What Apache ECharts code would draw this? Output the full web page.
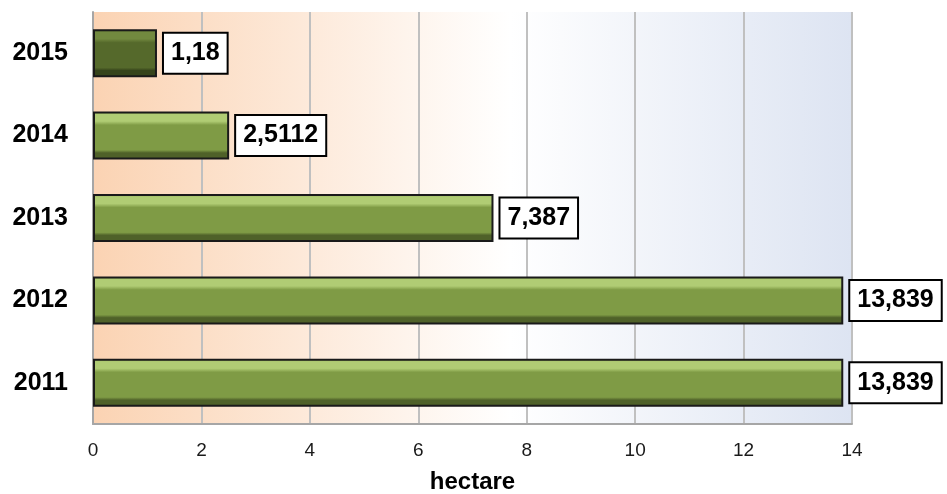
<!DOCTYPE html>
<html>
<head>
<meta charset="utf-8">
<script src="https://cdn.jsdelivr.net/npm/echarts@6/dist/echarts.min.js"></script>
<style>
  html, body { margin: 0; padding: 0; background: #ffffff; }
  #chart { width: 947px; height: 494px; }
</style>
</head>
<body>
<div id="chart"></div>
<script>
// Data
const years = ['2011', '2012', '2013', '2014', '2015'];
const hectares = [13.839, 13.839, 7.387, 2.5112, 1.18];
const valueLabels = ['13,839', '13,839', '7,387', '2,5112', '1,18'];
const xTicks = [0, 2, 4, 6, 8, 10, 12, 14];

// Bevel-like fills
function barFill(light, mid, dark) {
  return new echarts.graphic.LinearGradient(0, 0, 0, 1, [
    {offset: 0, color: mid},
    {offset: 0.06, color: light},
    {offset: 0.2, color: light},
    {offset: 0.28, color: mid},
    {offset: 0.8, color: mid},
    {offset: 0.86, color: dark},
    {offset: 1, color: dark}
  ]);
}
const normalFill = barFill('#b0cc74', '#7f9b45', '#4f6129');
const darkFill = barFill('#72893f', '#55692b', '#36441b');

const chart = echarts.init(document.getElementById('chart'));

const option = {
  animation: false,
  textStyle: {fontFamily: 'Liberation Sans, Arial, sans-serif'},
  grid: {
    left: 93,
    right: 95,
    top: 12,
    bottom: 70,
    containLabel: false,
    outerBoundsMode: 'none',
    show: true,
    borderWidth: 0,
    backgroundColor: new echarts.graphic.LinearGradient(0, 0, 1, 0, [
      {offset: 0, color: '#fbd3b3'},
      {offset: 0.55, color: '#ffffff'},
      {offset: 1, color: '#dde4f2'}
    ])
  },
  xAxis: {
    type: 'value',
    min: 0,
    max: 14,
    interval: 2,
    name: 'hectare',
    nameLocation: 'middle',
    nameGap: 46,
    nameTextStyle: {fontSize: 24, fontWeight: 'bold', color: '#000'},
    axisLine: {show: true, lineStyle: {color: '#a6a6a6', width: 2}},
    axisTick: {show: false},
    axisLabel: {
      fontSize: 19,
      color: '#1a1a1a',
      margin: 17,
      formatter: function (v) {
        return xTicks.indexOf(v) >= 0 ? String(v) : '';
      }
    },
    splitLine: {show: true, lineStyle: {color: '#c0c0c0', width: 2}}
  },
  yAxis: {
    type: 'category',
    data: years,
    axisLine: {show: true, lineStyle: {color: '#a6a6a6', width: 2}},
    axisTick: {show: false},
    axisLabel: {fontSize: 25, fontWeight: 'bold', color: '#000', margin: 25}
  },
  series: [{
    type: 'bar',
    barWidth: 48,
    data: hectares.map((v, i) => ({
      value: v,
      itemStyle: {
        color: years[i] === '2015' ? darkFill : normalFill
      }
    })),
    itemStyle: {
      borderColor: '#1a1a1a',
      borderWidth: 2
    },
    label: {
      show: true,
      position: 'right',
      distance: 7,
      formatter: p => valueLabels[p.dataIndex],
      fontSize: 25,
      fontWeight: 'bold',
      color: '#000',
      lineHeight: 29,
      backgroundColor: '#ffffff',
      borderColor: '#000',
      borderWidth: 2,
      padding: [6, 7, 4, 7]
    }
  }]
};

chart.setOption(option);
</script>
</body>
</html>
